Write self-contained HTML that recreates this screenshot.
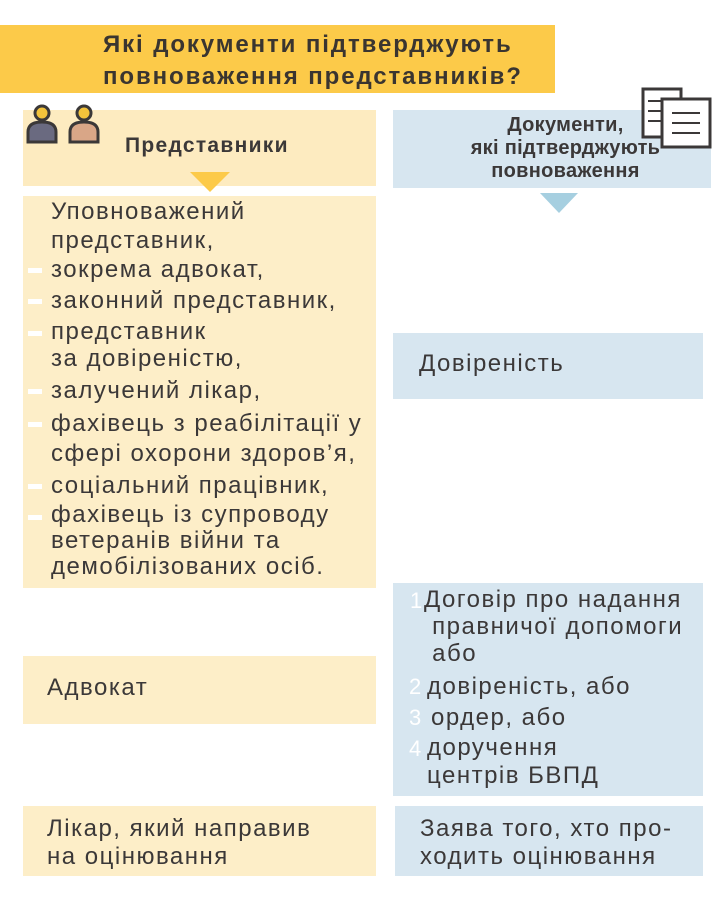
<!DOCTYPE html>
<html><head><meta charset="utf-8"><style>
body{margin:0;width:720px;height:899px;background:#fff;position:relative;overflow:hidden;font-family:"Liberation Sans",sans-serif;color:#3b3838}
.a{position:absolute}
.t{position:absolute;white-space:nowrap;font-size:24px;line-height:30px;letter-spacing:1.5px}
.d{position:absolute;width:14px;height:5px;background:#fff;left:28px}
.n{position:absolute;color:#fff;font-size:22px;line-height:30px}
</style></head><body>
<div class="a" style="left:0;top:25px;width:555px;height:68px;background:#fcca49"></div>
<div class="t" style="left:103px;top:29px;font-size:24px;line-height:32px;color:#3a3530;font-weight:bold;letter-spacing:1.9px">Які документи підтверджують<br>повноваження представників?</div>

<div class="a" style="left:23px;top:110px;width:353px;height:76px;background:#fdebc0"></div>
<svg class="a" style="left:24px;top:102px" width="82" height="42">
<circle cx="18" cy="11" r="7" fill="#f3c33b" stroke="#3b3838" stroke-width="3"/>
<path d="M4 40 V30 Q4 20 18 20 Q32 20 32 30 V40 Z" fill="#6a6a80" stroke="#3b3838" stroke-width="3"/>
<circle cx="60" cy="11" r="7" fill="#f3c33b" stroke="#3b3838" stroke-width="3"/>
<path d="M46 40 V30 Q46 20 60 20 Q74 20 74 30 V40 Z" fill="#d9a687" stroke="#3b3838" stroke-width="3"/>
</svg>
<div class="t" style="left:125px;top:131px;font-size:21px;font-weight:bold;letter-spacing:1.3px">Представники</div>
<div class="a" style="left:190px;top:172px;width:0;height:0;border-left:20px solid transparent;border-right:20px solid transparent;border-top:20px solid #fcca49"></div>

<div class="a" style="left:393px;top:110px;width:318px;height:78px;background:#d7e6f0"></div>
<div class="t" style="left:393px;width:345px;top:114px;font-size:20px;line-height:23px;text-align:center;font-weight:bold;letter-spacing:0.3px">Документи,<br>які підтверджують<br>повноваження</div>
<svg class="a" style="left:640px;top:86px" width="74" height="64">
<rect x="3" y="3" width="38" height="48" fill="#fff" stroke="#3b3838" stroke-width="3"/>
<rect x="22" y="13" width="48" height="48" fill="#fff" stroke="#3b3838" stroke-width="3"/>
<path d="M8 15h14M8 25h14M8 35h14M32 27h28M32 37h28M32 47h28" stroke="#3b3838" stroke-width="2"/>
</svg>
<div class="a" style="left:540px;top:193px;width:0;height:0;border-left:19px solid transparent;border-right:19px solid transparent;border-top:20px solid #a6cfe0"></div>

<div class="a" style="left:23px;top:196px;width:353px;height:392px;background:#fdeec8"></div>
<div class="t" style="left:51px;top:197px;line-height:29px">Уповноважений<br>представник,</div>
<div class="t" style="left:51px;top:255px">зокрема адвокат,</div>
<div class="t" style="left:51px;top:286px">законний представник,</div>
<div class="t" style="left:51px;top:318px;line-height:27px">представник<br>за довіреністю,</div>
<div class="t" style="left:51px;top:376px">залучений лікар,</div>
<div class="t" style="left:51px;top:409px;line-height:30px">фахівець з реабілітації у<br>сфері охорони здоров’я,</div>
<div class="t" style="left:51px;top:471px">соціальний працівник,</div>
<div class="t" style="left:51px;top:502px;line-height:26px">фахівець із супроводу<br>ветеранів війни та<br>демобілізованих осіб.</div>
<div class="d" style="top:268px"></div><div class="d" style="top:299px"></div><div class="d" style="top:331px"></div><div class="d" style="top:389px"></div><div class="d" style="top:422px"></div><div class="d" style="top:484px"></div><div class="d" style="top:515px"></div>

<div class="a" style="left:393px;top:333px;width:310px;height:66px;background:#d7e6f0"></div>
<div class="t" style="left:419px;top:349px">Довіреність</div>

<div class="a" style="left:393px;top:583px;width:310px;height:213px;background:#d7e6f0"></div>
<div class="t" style="left:424px;top:586px;line-height:27px">Договір про надання<br>&nbsp;правничої допомоги<br>&nbsp;або</div>
<div class="t" style="left:427px;top:672px">довіреність, або</div>
<div class="t" style="left:431px;top:703px">ордер, або</div>
<div class="t" style="left:427px;top:734px;line-height:28px">доручення<br>центрів БВПД</div>
<div class="n" style="left:410px;top:586px">1</div><div class="n" style="left:409px;top:672px">2</div><div class="n" style="left:409px;top:703px">3</div><div class="n" style="left:409px;top:734px">4</div>

<div class="a" style="left:23px;top:656px;width:353px;height:68px;background:#fdeec8"></div>
<div class="t" style="left:47px;top:673px">Адвокат</div>

<div class="a" style="left:23px;top:806px;width:353px;height:70px;background:#fdeec8"></div>
<div class="t" style="left:47px;top:815px;line-height:28px">Лікар, який направив<br>на оцінювання</div>
<div class="a" style="left:395px;top:806px;width:308px;height:70px;background:#d7e6f0"></div>
<div class="t" style="left:420px;top:815px;line-height:28px">Заява того, хто про-<br>ходить оцінювання</div>
</body></html>
